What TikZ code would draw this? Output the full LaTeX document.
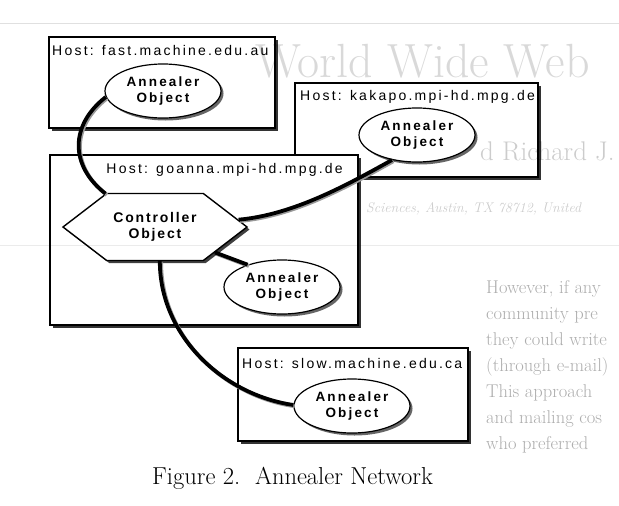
\documentclass[tikz,border=0pt]{standalone}
\usepackage{fontspec}
\usetikzlibrary{shapes.geometric, shapes.symbols, shadows}
\newfontfamily\hostfont[LetterSpace=16]{Liberation Sans}
\newfontfamily\objfont[LetterSpace=16]{Liberation Sans}
\newfontfamily\ctrlfont[LetterSpace=13]{Liberation Sans}

\tikzset{
  hostbox/.style={draw, fill=white, line width=1.1pt, inner sep=0pt,
    drop shadow={shadow xshift=3pt, shadow yshift=-3pt, opacity=1, fill=black!80}},
  hostlabel/.style={inner sep=0pt, font=\hostfont\fontsize{14}{16}\selectfont},
  annealer/.style={draw, ellipse, fill=white, line width=1.2pt, inner sep=0pt,
    minimum width=116pt, minimum height=54pt, align=center,
    font=\objfont\bfseries\fontsize{13.5}{16}\selectfont,
    drop shadow={shadow xshift=2.5pt, shadow yshift=-2.5pt, opacity=1, fill=black!60}},
  controller/.style={draw, signal, signal to=west and east, signal pointer angle=75,
    fill=white, line width=1.4pt, inner sep=0pt, minimum width=184pt, minimum height=67pt,
    align=center, font=\ctrlfont\bfseries\fontsize{14}{16}\selectfont,
    drop shadow={shadow xshift=2.5pt, shadow yshift=-2.5pt, opacity=1, fill=black!75}},
  link/.style={line width=3.8pt, black},
  linkshade/.style={line width=3.8pt, black!40, transform canvas={xshift=1.3pt, yshift=-1.3pt}},
  pagetext/.style={inner sep=0pt, opacity=0.32}
}

\begin{document}
\begin{tikzpicture}[x=1pt, y=-1pt]
  \useasboundingbox (0,0) rectangle (619,506);
  \fill[white] (0,0) rectangle (619,506);

  % host boxes, goanna sits on top of kakapo
  \node[hostbox, minimum width=243pt, minimum height=94pt] (kakapo) at (416.5,130) {};
  \node[hostbox, minimum width=226pt, minimum height=91pt] (fast) at (162,82.5) {};
  \node[hostbox, minimum width=308pt, minimum height=170pt] (goanna) at (204,240) {};
  \node[hostbox, minimum width=230pt, minimum height=93pt] (slow) at (353,394.5) {};

  % host names
  \node[hostlabel, anchor=west] (fastname) at (52,50) {Host: fast.machine.edu.au};
  \node[hostlabel, anchor=west] (kakaponame) at (300,97) {Host: kakapo.mpi-hd.mpg.de};
  \node[hostlabel, anchor=east] (goannaname) at (343,170) {Host: goanna.mpi-hd.mpg.de};
  \node[hostlabel, anchor=west] (slowname) at (242,363) {Host: slow.machine.edu.ca};

  % objects
  \node[annealer] (fastobj) at (163,91) {Annealer\\Object};
  \node[annealer] (kakapoobj) at (417,135) {Annealer\\Object};
  \node[annealer] (goannaobj) at (282,287) {Annealer\\Object};
  \node[annealer] (slowobj) at (352,406) {Annealer\\Object};
  \node[controller] (ctrl) at (155,227) {Controller\\Object};

  % links between the objects
  \draw[linkshade] (fastobj.186) .. controls +(-36,28) and +(-36,-28) .. (ctrl.146);
  \draw[link] (fastobj.186) .. controls +(-36,28) and +(-36,-28) .. (ctrl.146);
  \draw[linkshade] (ctrl.5) .. controls +(55,-5) and +(-45,25) .. (kakapoobj.225);
  \draw[link] (ctrl.5) .. controls +(55,-5) and +(-45,25) .. (kakapoobj.225);
  \draw[linkshade] (ctrl.337) -- (goannaobj.147);
  \draw[link] (ctrl.337) -- (goannaobj.147);
  \draw[linkshade] (ctrl.278) .. controls +(0,75) and +(-70,-10) .. (slowobj.179);
  \draw[link] (ctrl.278) .. controls +(0,75) and +(-70,-10) .. (slowobj.179);

  \node[anchor=west, inner sep=0pt, font=\fontsize{24.5}{26}\selectfont] (caption) at (152,478) {Figure 2.\ \ Annealer Network};

  % page text showing through
  \begin{scope}
    \clip (0,0) rectangle (619,506);
    \draw[black, opacity=0.12, line width=0.8pt] (0,23) -- (619,23);
    \draw[black, opacity=0.08, line width=0.8pt] (0,245) -- (619,245);
    \node[pagetext, opacity=0.15, anchor=base west, font=\fontsize{48}{48}\selectfont] (title) at (255,77) {World Wide Web};
    \node[pagetext, opacity=0.2, anchor=base west, font=\fontsize{27}{27}\selectfont] (authors) at (480,160) {d Richard J.};
    \node[pagetext, opacity=0.2, anchor=base west, font=\itshape\fontsize{14}{14}\selectfont] (affil) at (366,212) {Sciences, Austin, TX 78712, United};
    \foreach \txt [count=\i from 0] in {{However, if any},
        {community pre},
        {they could write},
        {(through e-mail)},
        {This approach},
        {and mailing cos},
        {who preferred}}
      \node[pagetext, anchor=base west, font=\fontsize{18.5}{19}\selectfont] (para\i) at (486,{293+26*\i}) {\txt};
  \end{scope}
\end{tikzpicture}
\end{document}
